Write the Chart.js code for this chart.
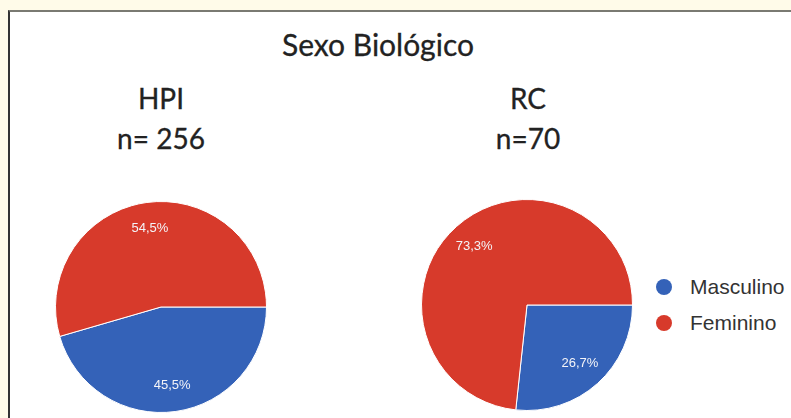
<!DOCTYPE html>
<html>
<head>
<meta charset="utf-8">
<script src="https://cdn.jsdelivr.net/npm/chart.js@4.4.1/dist/chart.umd.min.js"></script>
<style>
  html, body { margin: 0; padding: 0; }
  body {
    width: 791px; height: 418px; overflow: hidden; position: relative;
    background: #fffbe9;
  }
  #frame {
    position: absolute; left: 8px; top: 10px; width: 800px; height: 420px;
    background: #ffffff;
    border-left: 2px solid #333333; border-top: 2px solid #7a7a72;
  }
  .txt {
    position: absolute; transform: translateX(-50%); white-space: nowrap;
    font-family: Lato, "Open Sans", sans-serif; color: #222222; line-height: 1;
    -webkit-text-stroke: 0.3px #222222;
  }
  #title { left: 378px; top: 29px; font-size: 30px; }
  .pieHead { font-size: 28px; text-align: center; line-height: 40px; }
  #headL { left: 161px; top: 78px; }
  #headR { left: 528px; top: 78px; }
  canvas.pie { position: absolute; }
  #pieL { left: 55px; top: 201px; }
  #pieR { left: 421px; top: 199px; }
  #legend { position: absolute; left: 656px; top: 269px; font-family: "Liberation Sans", Arial, sans-serif; font-size: 21px; color: #333; }
  #legend .row { height: 36px; display: flex; align-items: center; }
  #legend .dot { width: 16px; height: 16px; border-radius: 50%; margin-right: 18px; }
</style>
</head>
<body>
<div id="frame"></div>
<div id="title" class="txt">Sexo Biológico</div>
<div id="headL" class="txt pieHead"></div>
<div id="headR" class="txt pieHead"></div>
<canvas id="pieL" class="pie" width="212" height="212"></canvas>
<canvas id="pieR" class="pie" width="212" height="212"></canvas>
<div id="legend"></div>
<script>
// Categories and share (%) of each group
const categories = ['Masculino', 'Feminino'];
const colors = ['#3462b8', '#d73a2b'];
const groups = ['HPI', 'RC'];
const sampleSizes = ['n= 256', 'n=70'];
const hpiValues = [45.5, 54.5];
const rcValues = [26.7, 73.3];

// Headers above each pie
document.getElementById('headL').innerHTML = groups[0] + '<br>' + sampleSizes[0];
document.getElementById('headR').innerHTML = groups[1] + '<br>' + sampleSizes[1];

// Legend
const legend = document.getElementById('legend');
categories.forEach((c, i) => {
  const row = document.createElement('div');
  row.className = 'row';
  row.innerHTML = '<span class="dot" style="background:' + colors[i] + '"></span><span>' + c + '</span>';
  legend.appendChild(row);
});

// Percentage labels placed inside each slice
const sliceLabels = {
  id: 'sliceLabels',
  afterDatasetsDraw(chart) {
    const ctx = chart.ctx;
    const meta = chart.getDatasetMeta(0);
    const data = chart.data.datasets[0].data;
    ctx.save();
    ctx.fillStyle = '#f4f4f8';
    ctx.font = '13px "Liberation Sans", Arial, sans-serif';
    ctx.textAlign = 'center';
    ctx.textBaseline = 'middle';
    meta.data.forEach((arc, i) => {
      const p = arc.getProps(['x', 'y', 'startAngle', 'endAngle', 'outerRadius'], true);
      const mid = (p.startAngle + p.endAngle) / 2;
      const r = p.outerRadius * 0.75;
      const text = data[i].toFixed(1).replace('.', ',') + '%';
      ctx.fillText(text, p.x + Math.cos(mid) * r, p.y + Math.sin(mid) * r);
    });
    ctx.restore();
  }
};

function makePie(id, values) {
  return new Chart(document.getElementById(id), {
    type: 'pie',
    data: {
      labels: categories,
      datasets: [{
        data: values,
        backgroundColor: colors,
        borderColor: '#ffffff',
        borderWidth: 1
      }]
    },
    options: {
      responsive: false,
      animation: false,
      rotation: 90,
      layout: { padding: 0 },
      plugins: { legend: { display: false }, tooltip: { enabled: false } }
    },
    plugins: [sliceLabels]
  });
}

makePie('pieL', hpiValues);
makePie('pieR', rcValues);
</script>
</body>
</html>
